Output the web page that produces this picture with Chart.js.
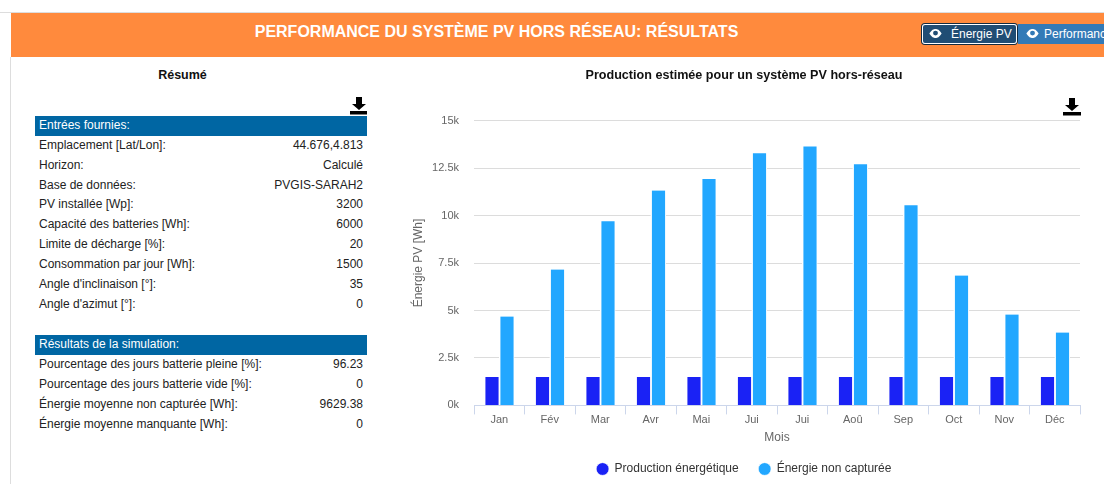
<!DOCTYPE html>
<html lang="fr"><head><meta charset="utf-8">
<script src="https://cdn.jsdelivr.net/npm/chart.js@4"></script>
<style>
html,body{margin:0;padding:0;background:#fff;overflow:hidden;width:1104px;height:484px;font-family:"Liberation Sans",Arial,sans-serif;color:#333}
.abs{position:absolute}
#line{left:0;top:12px;width:1104px;height:1px;background:#ddd}
#side{left:10px;top:57px;width:1px;height:427px;background:#ddd}
#banner{left:11px;top:13px;width:1093px;height:44px;background:#ff8a3d}
#title{left:11px;top:23px;width:971px;text-align:center;color:#fff;font-weight:bold;font-size:16px;line-height:18px}
.btn{top:24px;height:20px;color:#fff;font-size:12px;line-height:20px;white-space:nowrap;overflow:hidden}
#b1{left:922px;width:95px;background:#204d74;border-radius:3px;box-shadow:0 0 0 1px #122b40,inset 0 0 0 1px #fff}
#b2{left:1018px;width:86px;background:#337ab7}
.btn svg{position:absolute;top:5px}
.btn span{position:absolute;top:0}
#rt{left:35px;top:68px;width:295px;text-align:center;font-weight:bold;font-size:12.5px;color:#111}
.head{left:35px;width:332px;height:20px;background:#0066a3;color:#fff;font-size:12px;line-height:19px;text-indent:4px}
.row{left:39px;width:324px;font-size:12px;line-height:14px;color:#222;display:flex;justify-content:space-between}
#wrap{left:400px;top:60px;width:686px;height:425px}
</style></head><body>
<div class="abs" id="line"></div><div class="abs" id="side"></div><div class="abs" id="banner"></div>
<div class="abs" id="title">PERFORMANCE DU SYSTÈME PV HORS RÉSEAU: RÉSULTATS</div>
<div class="abs btn" id="b1"><svg style="left:7px" width="13" height="9" viewBox="0 0 15 11"><path d="M0 5.5C3 1 5 0 7.5 0S12 1 15 5.5C12 10 10 11 7.5 11S3 10 0 5.5Z" fill="#fff"/><circle cx="7.5" cy="5" r="3" fill="#204d74"/></svg><span style="left:29px">Énergie PV</span></div>
<div class="abs btn" id="b2"><svg style="left:8px" width="13" height="9" viewBox="0 0 15 11"><path d="M0 5.5C3 1 5 0 7.5 0S12 1 15 5.5C12 10 10 11 7.5 11S3 10 0 5.5Z" fill="#fff"/><circle cx="7.5" cy="5" r="3" fill="#337ab7"/></svg><span style="left:26px">Performance</span></div>
<div class="abs" id="rt">Résumé</div>
<svg class="abs" style="left:350px;top:97px" width="18" height="18" viewBox="0 0 18 18"><path d="M6 0H12V7H16L9 13L2 7H6Z" fill="#000"/><rect y="14" width="17" height="3.5" fill="#000"/></svg>
<svg class="abs" style="left:1063px;top:98px" width="18" height="18" viewBox="0 0 18 18"><path d="M6 0H12V7H16L9 13L2 7H6Z" fill="#000"/><rect y="14" width="18" height="3.5" fill="#000"/></svg>
<div id="tables"></div>
<div class="abs" id="wrap"><canvas id="c" width="686" height="425"></canvas></div>
<script>
const months=["Jan","Fév","Mar","Avr","Mai","Jui","Jui","Aoû","Sep","Oct","Nov","Déc"];
const production=[1500,1500,1500,1500,1500,1500,1500,1500,1500,1500,1500,1500];
const nonCapturee=[4680,7160,9700,11320,11920,13280,13640,12700,10540,6840,4790,3840];
const inputsHead="Entrées fournies:";
const inputLabels=["Emplacement [Lat/Lon]:","Horizon:","Base de données:","PV installée [Wp]:","Capacité des batteries [Wh]:","Limite de décharge [%]:","Consommation par jour [Wh]:","Angle d'inclinaison [°]:","Angle d'azimut [°]:"];
const inputValues=["44.676,4.813","Calculé","PVGIS-SARAH2","3200","6000","20","1500","35","0"];
const resultsHead="Résultats de la simulation:";
const resultLabels=["Pourcentage des jours batterie pleine [%]:","Pourcentage des jours batterie vide [%]:","Énergie moyenne non capturée [Wh]:","Énergie moyenne manquante [Wh]:"];
const resultValues=["96.23","0","9629.38","0"];

const host=document.getElementById('tables');
function section(head,labels,values,top,rowTops){
  const h=document.createElement('div');h.className='abs head';h.style.top=top+'px';h.textContent=head;host.appendChild(h);
  labels.forEach((l,i)=>{
    const r=document.createElement('div');r.className='abs row';r.style.top=rowTops[i]+'px';
    const a=document.createElement('span');a.textContent=l;
    const b=document.createElement('span');b.textContent=values[i];
    r.append(a,b);host.appendChild(r);
  });
}
section(inputsHead,inputLabels,inputValues,116,[138,158,178,197,217,237,257,277,297]);
section(resultsHead,resultLabels,resultValues,335,[357,377,397,417]);

new Chart(document.getElementById('c'),{
  type:'bar',
  data:{labels:months,datasets:[
    {label:'Production énergétique',data:production,backgroundColor:'#1a22f5'},
    {label:'Énergie non capturée',data:nonCapturee,backgroundColor:'#22a7ff'}
  ]},
  options:{
    responsive:false,animation:false,
    layout:{padding:{left:8,right:6,top:0,bottom:0}},
    datasets:{bar:{barThickness:15,borderColor:'#fff',borderWidth:{left:1.5,right:1,top:0,bottom:0},borderSkipped:false}},
    plugins:{
      title:{display:true,text:'Production estimée pour un système PV hors-réseau',color:'#111',font:{family:'"Liberation Sans"',size:12.6,weight:'bold'},padding:{top:8,bottom:37.5}},
      legend:{position:'bottom',labels:{usePointStyle:true,pointStyle:'circle',boxWidth:13,boxHeight:9,color:'#333',font:{family:'"Liberation Sans"',size:12},padding:20}},
      tooltip:{enabled:false}
    },
    scales:{
      x:{afterFit(a){a.height=a.height-4;},grid:{drawOnChartArea:false,drawTicks:true,tickLength:9,tickColor:'#ccd6eb'},border:{color:'#ccd6eb'},
         ticks:{color:'#666',font:{family:'"Liberation Sans"',size:11},padding:-1,maxRotation:0},
         title:{display:true,text:'Mois',color:'#666',font:{family:'"Liberation Sans"',size:12},padding:{top:9,bottom:-2}}},
      y:{min:0,max:15000,afterFit(a){a.width=66;},
         ticks:{stepSize:2500,color:'#666',font:{family:'"Liberation Sans"',size:11},padding:15,callback:v=>(v/1000)+'k'},
         grid:{color:'#dcdcdc',drawTicks:false},border:{display:false},
         title:{display:true,text:'Énergie PV [Wh]',color:'#666',font:{family:'"Liberation Sans"',size:12},padding:{top:3,bottom:0}}}
    }
  }
});
</script></body></html>
